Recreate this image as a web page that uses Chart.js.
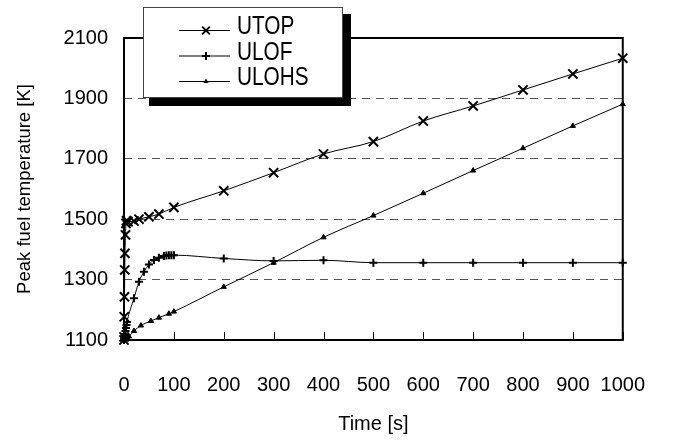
<!DOCTYPE html>
<html>
<head>
<meta charset="utf-8">
<script src="https://cdn.jsdelivr.net/npm/chart.js@4/dist/chart.umd.min.js"></script>
<style>
  html, body { margin: 0; padding: 0; background: #fff; }
  #wrap { width: 678px; height: 441px; }
</style>
</head>
<body>
<div id="wrap"><canvas id="c" width="678" height="441"></canvas></div>
<script>
// values
const utopTime = [0, 0.2, 0.5, 1, 1.5, 2, 3, 4, 5, 8, 20, 30, 50, 70, 100, 200, 300, 400, 500, 600, 700, 800, 900, 1000];
const utopTemp = [1100, 1110, 1177, 1243, 1332, 1387, 1448, 1486, 1495, 1492, 1494, 1500, 1508, 1517, 1539, 1594, 1654, 1716, 1757, 1825, 1875, 1928, 1981, 2033];

const ulofTime = [0, 0.5, 1, 2, 3, 4, 5, 6, 20, 30, 40, 50, 60, 70, 80, 85, 90, 95, 100, 200, 300, 400, 500, 600, 700, 800, 900, 1000];
const ulofTemp = [1100, 1105, 1112, 1120, 1130, 1140, 1150, 1160, 1238, 1293, 1326, 1350, 1365, 1372, 1378, 1380, 1381, 1381, 1381, 1370, 1362, 1364, 1356, 1356, 1356, 1356, 1356, 1356];

const ulohsTime = [0, 1, 2, 4, 6, 10, 20, 34, 54, 70, 90, 100, 200, 300, 400, 500, 600, 700, 800, 900, 1000];
const ulohsTemp = [1100, 1102, 1104, 1106, 1108, 1112, 1130, 1148, 1163, 1174, 1187, 1194, 1276, 1356, 1440, 1512, 1586, 1661, 1735, 1809, 1881];

const seriesNames = ["UTOP", "ULOF", "ULOHS"];
const FONT = "'Liberation Sans Narrow', 'Arial Narrow', 'Liberation Sans', sans-serif";

const toPts = (xs, ys) => xs.map((x, i) => ({ x, y: ys[i] }));

// marker drawing used by the legend
function drawMarker(ctx, style, x, y, r) {
  ctx.beginPath();
  if (style === "crossRot") {
    const d = r * Math.SQRT1_2;
    ctx.moveTo(x - d, y - d); ctx.lineTo(x + d, y + d);
    ctx.moveTo(x + d, y - d); ctx.lineTo(x - d, y + d);
    ctx.stroke();
  } else if (style === "cross") {
    ctx.moveTo(x - r, y); ctx.lineTo(x + r, y);
    ctx.moveTo(x, y - r); ctx.lineTo(x, y + r);
    ctx.stroke();
  } else {
    const h = r * 1.5;
    ctx.moveTo(x, y - h * 0.66);
    ctx.lineTo(x + r * 0.87, y + h * 0.34);
    ctx.lineTo(x - r * 0.87, y + h * 0.34);
    ctx.closePath();
    ctx.fill();
  }
}

// ── frame + inward x ticks ─────────────────────────
const frame = {
  id: "frame",
  afterDatasetsDraw(chart) {
    const { ctx, chartArea: a } = chart;
    const xs = chart.scales.x;
    ctx.save();
    ctx.strokeStyle = "#000";
    ctx.lineWidth = 1;
    xs.ticks.forEach(t => {
      const px = Math.round(xs.getPixelForValue(t.value)) + 0.5;
      ctx.beginPath(); ctx.moveTo(px, a.bottom); ctx.lineTo(px, a.bottom - 8); ctx.stroke();
    });
    ctx.lineWidth = 2;
    ctx.strokeRect(a.left, a.top, a.right - a.left, a.bottom - a.top);
    ctx.restore();
  }
};

// ── boxed legend with shadow ──────────────────────
const legendBox = {
  id: "legendBox",
  afterDraw(chart) {
    const ctx = chart.ctx;
    ctx.save();
    ctx.fillStyle = "#000";
    ctx.fillRect(149, 14, 202, 92);
    ctx.fillStyle = "#fff";
    ctx.fillRect(143, 7, 200, 91);
    ctx.strokeStyle = "#444"; ctx.lineWidth = 1;
    ctx.strokeRect(143.5, 7.5, 199, 90);
    chart.data.datasets.forEach((ds, i) => {
      const y = 30 + i * 25.5;
      ctx.strokeStyle = "#000"; ctx.fillStyle = "#000"; ctx.lineWidth = 1;
      ctx.beginPath(); ctx.moveTo(179, y + 0.5); ctx.lineTo(230, y + 0.5); ctx.stroke();
      ctx.lineWidth = 2;
      drawMarker(ctx, ds.pointStyle, 206, y + 0.5, ds.pointStyle === "crossRot" ? 5.5 : ds.pointRadius);
      // squeeze the text to look like the narrow face of the original
      ctx.save();
      ctx.translate(237, y - 4);
      ctx.scale(0.8, 1);
      ctx.font = "26px " + FONT;
      ctx.textBaseline = "middle";
      ctx.fillText(ds.label, 0, 1);
      ctx.restore();
    });
    ctx.restore();
  }
};

const common = {
  borderColor: "#000", backgroundColor: "#000", pointBorderColor: "#000", pointBackgroundColor: "#000",
  borderWidth: 1, pointBorderWidth: 2, clip: false, cubicInterpolationMode: "monotone", fill: false
};

new Chart(document.getElementById("c"), {
  type: "line",
  data: {
    datasets: [
      { ...common, label: seriesNames[0], data: toPts(utopTime, utopTemp), pointStyle: "crossRot", pointRadius: 6.5 },
      { ...common, label: seriesNames[1], data: toPts(ulofTime, ulofTemp), pointStyle: "cross", pointRadius: 4 },
      { ...common, label: seriesNames[2], data: toPts(ulohsTime, ulohsTemp), pointStyle: "triangle", pointRadius: 3, pointBorderWidth: 1 }
    ]
  },
  options: {
    responsive: false,
    animation: false,
    layout: { padding: { left: 0, right: 37, top: 38, bottom: 0 } },
    plugins: { legend: { display: false }, tooltip: { enabled: false } },
    scales: {
      x: {
        type: "linear", min: 0, max: 1000,
        ticks: {
          stepSize: 100, autoSkip: false, color: "#000", padding: 33, maxRotation: 0,
          font: { size: 20, family: FONT }, callback: v => String(v)
        },
        grid: { display: false, drawTicks: false },
        border: { display: false },
        title: { display: true, text: "Time [s]", color: "#000", font: { size: 20, family: FONT }, padding: { top: 0, bottom: 5 } },
        afterFit: s => { s.height = 101; }
      },
      y: {
        min: 1100, max: 2100,
        ticks: { stepSize: 200, color: "#000", padding: 16, font: { size: 20, family: FONT }, callback: v => String(v) },
        grid: {
          drawTicks: false, lineWidth: 1,
          color: c => (c.tick && (c.tick.value === 1100 || c.tick.value === 2100)) ? "rgba(0,0,0,0)" : "#555"
        },
        border: { display: false, dash: [8, 6] },
        title: { display: true, text: "Peak fuel temperature [K]", color: "#000", font: { size: 18.5, family: FONT }, padding: { top: 14, bottom: 0 } },
        afterFit: s => { s.width = 124; }
      }
    }
  },
  plugins: [frame, legendBox]
});
</script>
</body>
</html>
